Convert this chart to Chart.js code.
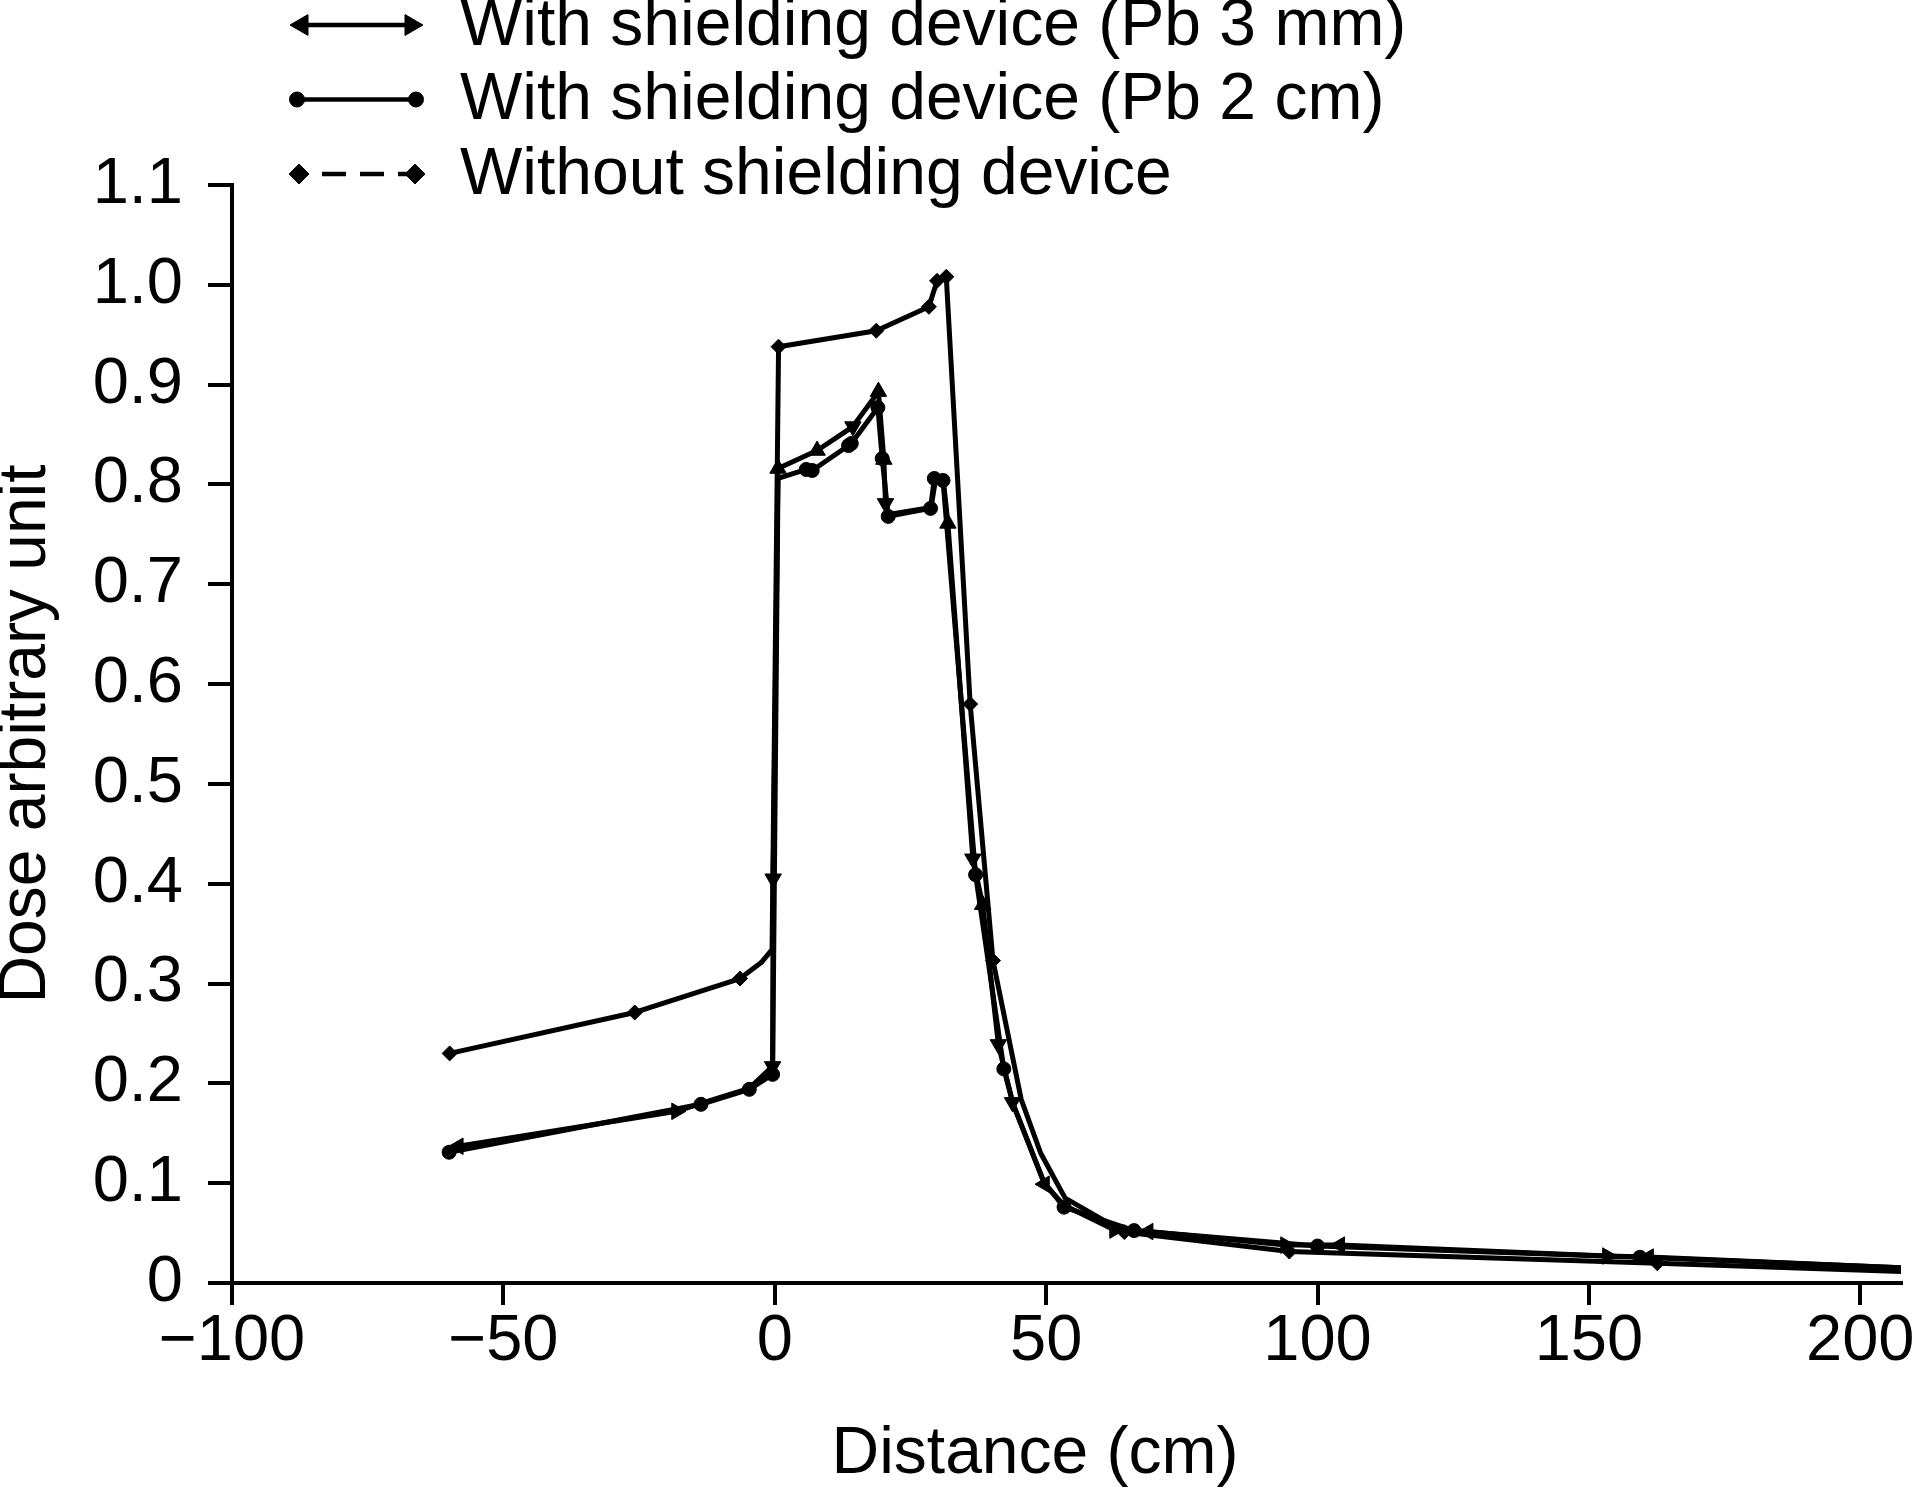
<!DOCTYPE html>
<html>
<head>
<meta charset="utf-8">
<script src="https://cdn.jsdelivr.net/npm/chart.js@4.4.1/dist/chart.umd.min.js"></script>
<style>
  html, body { margin: 0; padding: 0; background: #ffffff; overflow: hidden; }
  #wrap { width: 1915px; height: 1500px; position: relative; }
</style>
</head>
<body>
<div id="wrap"><canvas id="c" width="1915" height="1500"></canvas></div>
<script>
// ---------------- DATA ----------------
const seriesNames = [
  'With shielding device (Pb 3 mm)',
  'With shielding device (Pb 2 cm)',
  'Without shielding device'
];
const xAxisTitle = 'Distance (cm)';
const yAxisTitle = 'Dose arbitrary unit';
const xTickValues = [-100, -50, 0, 50, 100, 150, 200];
const yTickValues = [0, 0.1, 0.2, 0.3, 0.4, 0.5, 0.6, 0.7, 0.8, 0.9, 1.0, 1.1];

// With shielding device (Pb 3 mm)
const pb3mmX = [-58.3, -18.1, -13.6, -4.7, -0.4, -0.3, 0.6, 7.8, 14.4, 19.1, 20.1, 20.4, 21.0, 28.8, 29.6, 31.1, 31.9, 36.5, 38.3, 41.2, 43.8, 49.7, 53.3, 62.6, 68.8, 94.1, 104.1, 153.4, 161.0, 215];
const pb3mmY = [0.137, 0.172, 0.180, 0.195, 0.217, 0.405, 0.816, 0.834, 0.858, 0.893, 0.825, 0.781, 0.770, 0.777, 0.804, 0.802, 0.761, 0.425, 0.379, 0.239, 0.181, 0.099, 0.078, 0.053, 0.0515, 0.038, 0.038, 0.027, 0.026, 0.0135];

// With shielding device (Pb 2 cm)
const pb2cmX = [-60.0, -13.6, -4.7, -0.4, 0.6, 5.8, 6.9, 13.6, 14.1, 19.0, 19.8, 20.9, 28.7, 29.4, 31.0, 37.0, 42.2, 44.0, 49.6, 53.3, 66.2, 100.0, 159.4, 215];
const pb2cmY = [0.131, 0.179, 0.194, 0.209, 0.806, 0.815, 0.814, 0.839, 0.841, 0.877, 0.826, 0.768, 0.776, 0.806, 0.804, 0.409, 0.2145, 0.178, 0.101, 0.076, 0.0525, 0.037, 0.0258, 0.0135];

// Without shielding device
const noShieldX = [-59.9, -25.8, -6.4, -2.5, -0.5, 0.7, 18.7, 28.4, 29.9, 31.6, 36.0, 40.2, 45.4, 49.0, 53.5, 64.4, 94.8, 162.6, 215];
const noShieldY = [0.230, 0.271, 0.305, 0.321, 0.334, 0.938, 0.954, 0.978, 1.004, 1.008, 0.580, 0.323, 0.184, 0.130, 0.085, 0.051, 0.0315, 0.0198, 0.0100];

// ---------------- STYLE ----------------
const FONT = "'Liberation Sans', Arial, Helvetica, sans-serif";
const LINE_W = 5;
const pb3mmRotation = [270, 90, 0, 0, 180, 180, 0, 0, 180, 0, 0, 180, 0, 0, 0, 0, 0, 180, 0, 180, 60, 270, 0, 90, 270, 90, 270, 90, 270, 0];
const pb3mmHidden = [2, 3, 12, 13, 14, 15, 22, 29];
const pb2cmHidden = [4, 17, 18, 23];
const noShieldHidden = [3, 4, 12, 13, 14, 18];

Chart.defaults.font.family = FONT;
Chart.defaults.color = '#000';

function toPoints(xs, ys) { return xs.map((x, i) => ({ x: x, y: ys[i] })); }
function radii(n, r, hidden) { return Array.from({ length: n }, (_, i) => hidden.includes(i) ? 0 : r); }

const common = {
  borderColor: '#000', backgroundColor: '#000',
  pointBackgroundColor: '#000', pointBorderColor: '#000', pointBorderWidth: 1,
  borderWidth: LINE_W, fill: false, tension: 0, borderJoinStyle: 'round'
};

const datasets = [
  Object.assign({
    label: seriesNames[0], data: toPoints(pb3mmX, pb3mmY),
    pointStyle: 'triangle', pointRadius: radii(pb3mmX.length, 9.5, pb3mmHidden), pointRotation: pb3mmRotation
  }, common),
  Object.assign({
    label: seriesNames[1], data: toPoints(pb2cmX, pb2cmY),
    pointStyle: 'circle', pointRadius: radii(pb2cmX.length, 7, pb2cmHidden)
  }, common),
  Object.assign({
    label: seriesNames[2], data: toPoints(noShieldX, noShieldY),
    pointStyle: 'rectRot', pointRadius: radii(noShieldX.length, 7.5, noShieldHidden)
  }, common)
];

// custom legend (line + end markers) and x-axis title
const legendPlugin = {
  id: 'refLegend',
  afterDraw(chart) {
    const ctx = chart.ctx;
    const tx = 460;
    const rows = [
      { y: 25,   ty: 27,  style: 'triangle', r: 12,  xl: 302, xr: 411, rotL: 270, rotR: 90, lx0: 302, lx1: 411, dash: [] },
      { y: 99.5, ty: 101, style: 'circle',   r: 7.5, xl: 297, xr: 416, rotL: 0,   rotR: 0,  lx0: 297, lx1: 416, dash: [] },
      { y: 174,  ty: 176, style: 'rectRot',  r: 10,  xl: 299, xr: 415, rotL: 0,   rotR: 0,  lx0: 322, lx1: 415, dash: [24, 14] }
    ];
    ctx.save();
    rows.forEach((row, i) => {
      ctx.strokeStyle = '#000';
      ctx.fillStyle = '#000';
      ctx.lineWidth = 4.5;
      ctx.setLineDash(row.dash);
      ctx.beginPath();
      ctx.moveTo(row.lx0, row.y);
      ctx.lineTo(row.lx1, row.y);
      ctx.stroke();
      ctx.setLineDash([]);
      ctx.lineWidth = 1;
      Chart.helpers.drawPoint(ctx, { pointStyle: row.style, radius: row.r, rotation: row.rotL, borderWidth: 1 }, row.xl, row.y);
      Chart.helpers.drawPoint(ctx, { pointStyle: row.style, radius: row.r, rotation: row.rotR, borderWidth: 1 }, row.xr, row.y);
      ctx.font = '66px ' + FONT;
      ctx.textAlign = 'left';
      ctx.textBaseline = 'middle';
      ctx.fillText(seriesNames[i], tx, row.ty);
    });
    ctx.font = '66px ' + FONT;
    ctx.textAlign = 'center';
    ctx.textBaseline = 'middle';
    ctx.fillText(xAxisTitle, 1035, 1455);
    ctx.restore();
  }
};

new Chart(document.getElementById('c'), {
  type: 'line',
  data: { datasets: datasets },
  plugins: [legendPlugin],
  options: {
    responsive: false,
    devicePixelRatio: 1,
    animation: false,
    events: [],
    layout: { padding: { top: 185, right: 14, bottom: 0, left: 0 } },
    plugins: { legend: { display: false }, tooltip: { enabled: false }, title: { display: false } },
    scales: {
      x: {
        type: 'linear',
        min: -100, max: 207.5,
        afterBuildTicks: s => { s.ticks = xTickValues.map(v => ({ value: v })); },
        afterFit: s => { s.height = 217; s.paddingLeft = 0; s.paddingRight = 0; },
        ticks: {
          autoSkip: false, maxRotation: 0, padding: 5, color: '#000',
          font: { size: 65, lineHeight: 1 },
          callback: v => String(v).replace('-', '\u2212')
        },
        grid: { drawOnChartArea: false, drawTicks: true, tickLength: 22, color: '#000', lineWidth: 4, tickWidth: 4 },
        border: { display: true, color: '#000', width: 4 },
        title: { display: false, text: xAxisTitle }
      },
      y: {
        type: 'linear',
        min: 0, max: 1.1,
        afterBuildTicks: s => { s.ticks = yTickValues.map(v => ({ value: v })); },
        afterFit: s => { s.width = 232; s.paddingTop = 0; s.paddingBottom = 0; },
        ticks: {
          autoSkip: false, padding: 25, color: '#000',
          font: { size: 65, lineHeight: 1 },
          callback: v => (v === 0 ? '0' : Number(v).toFixed(1))
        },
        grid: { drawOnChartArea: false, drawTicks: true, tickLength: 24, color: '#000', lineWidth: 4, tickWidth: 4 },
        border: { display: true, color: '#000', width: 4 },
        title: {
          display: true, text: yAxisTitle, color: '#000',
          font: { size: 66, lineHeight: 0.8 }, padding: { top: 0, bottom: 0 }
        }
      }
    }
  }
});
</script>
</body>
</html>
